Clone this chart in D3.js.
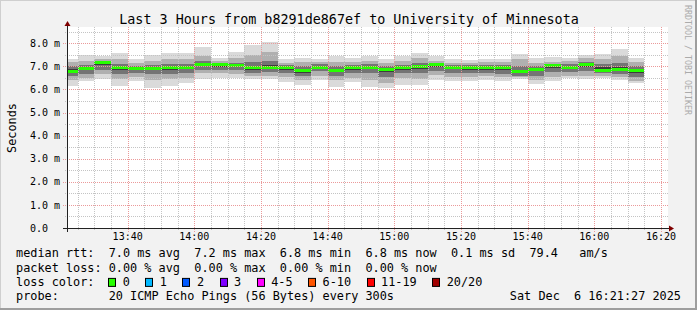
<!DOCTYPE html>
<html lang="en">
<head>
<meta charset="UTF-8" />
<title>SmokePing - Last 3 Hours</title>
<script src="https://d3js.org/d3.v7.min.js"></script>
<style>
  body { margin: 0; background: #f2f2f2; }
  svg { display: block; }
  text { font-family: "DejaVu Sans Mono", monospace; fill: #000; white-space: pre; }
</style>
</head>
<body>
<svg width="697" height="310"></svg>
<script>
// time window of the graph and the 5 minute bins
const viewStart = new Date(2025, 11, 6, 13, 21, 48);
const viewEnd = new Date(2025, 11, 6, 16, 21, 48);
const binStart = new Date(2025, 11, 6, 13, 20, 0);
const stepSec = 300;
const yMax = 8.66;

// median rtt per bin (ms)
const median = [6.79, 6.90, 7.15, 6.97, 6.90, 6.90, 6.96, 6.97, 7.10, 7.07, 7.02, 6.93, 6.97, 6.94, 6.81, 6.97, 6.84, 6.93,
  6.97, 6.86, 6.93, 7.00, 7.06, 6.97, 6.93, 6.93, 6.93, 6.78, 6.86, 7.02, 6.97, 7.07, 6.84, 6.88, 6.81];
// smoke: slowest / fastest ping
const pingMax = [7.33, 7.48, 7.44, 7.59, 7.33, 7.51, 7.58, 7.58, 7.84, 7.36, 7.62, 7.94, 8.06, 7.33, 7.36, 7.33, 7.44, 7.36,
  7.44, 7.33, 7.44, 7.59, 7.44, 7.33, 7.26, 7.33, 7.33, 7.54, 7.36, 7.41, 7.36, 7.51, 7.54, 7.75, 7.36];
const pingMin = [6.14, 6.35, 6.45, 6.16, 6.38, 6.06, 6.14, 6.28, 6.47, 6.50, 6.50, 6.47, 6.44, 6.32, 6.21, 6.42, 6.09, 6.32,
  6.09, 6.06, 6.21, 6.21, 6.42, 6.35, 6.35, 6.42, 6.35, 6.47, 6.24, 6.35, 6.50, 6.47, 6.50, 6.42, 6.28];
// inner smoke layers (upper / lower bounds)
const hi2 = [7.20, 7.25, 7.30, 7.30, 7.15, 7.25, 7.30, 7.30, 7.45, 7.22, 7.35, 7.50, 7.60, 7.15, 7.20, 7.18, 7.20, 7.18,
  7.22, 7.15, 7.25, 7.35, 7.25, 7.15, 7.15, 7.18, 7.18, 7.30, 7.15, 7.20, 7.22, 7.35, 7.30, 7.45, 7.20];
const lo2 = [6.40, 6.50, 6.65, 6.45, 6.55, 6.40, 6.45, 6.50, 6.70, 6.70, 6.65, 6.60, 6.60, 6.52, 6.40, 6.60, 6.40, 6.50,
  6.40, 6.30, 6.50, 6.45, 6.62, 6.55, 6.55, 6.58, 6.52, 6.55, 6.40, 6.55, 6.60, 6.60, 6.58, 6.55, 6.38];
const hi3 = [7.02, 7.05, 7.20, 7.10, 7.02, 7.05, 7.10, 7.12, 7.25, 7.13, 7.15, 7.20, 7.25, 7.05, 7.02, 7.08, 7.00, 7.05,
  7.10, 7.00, 7.05, 7.15, 7.15, 7.05, 7.05, 7.05, 7.05, 7.00, 7.00, 7.10, 7.10, 7.20, 7.12, 7.15, 7.00];
const lo3 = [6.58, 6.68, 6.85, 6.65, 6.70, 6.65, 6.68, 6.72, 6.85, 6.85, 6.82, 6.72, 6.75, 6.72, 6.58, 6.78, 6.60, 6.70,
  6.70, 6.55, 6.70, 6.72, 6.80, 6.72, 6.72, 6.72, 6.68, 6.58, 6.60, 6.75, 6.75, 6.78, 6.70, 6.68, 6.55];
const hi4 = [6.88, 6.95, 7.17, 7.00, 6.94, 6.95, 7.00, 7.03, 7.15, 7.10, 7.06, 7.00, 7.05, 6.98, 6.90, 7.01, 6.90, 6.97,
  7.01, 6.90, 6.97, 7.05, 7.10, 7.00, 6.97, 6.97, 6.97, 6.85, 6.92, 7.05, 7.02, 7.12, 6.95, 6.98, 6.88];
const lo4 = [6.70, 6.83, 7.05, 6.85, 6.82, 6.82, 6.85, 6.88, 7.00, 6.98, 6.95, 6.85, 6.88, 6.86, 6.72, 6.90, 6.75, 6.85,
  6.88, 6.75, 6.85, 6.90, 6.95, 6.88, 6.85, 6.85, 6.82, 6.70, 6.78, 6.92, 6.88, 6.95, 6.78, 6.80, 6.72];

const yTicks = [0, 1, 2, 3, 4, 5, 6, 7, 8];
const yTickLabels = ["0.0", "1.0 m", "2.0 m", "3.0 m", "4.0 m", "5.0 m", "6.0 m", "7.0 m", "8.0 m"];

const lossLabels = ["0", "1", "2", "3", "4-5", "6-10", "11-19", "20/20"];
const lossColors = ["#26ff00", "#00b8ff", "#0059ff", "#7e00ff", "#ff00ff", "#ff5500", "#ff0000", "#a10000"];

const title = "Last 3 Hours from b8291de867ef to University of Minnesota";
const rttLine = "median rtt:  7.0 ms avg  7.2 ms max  6.8 ms min  6.8 ms now  0.1 ms sd  79.4   am/s";
const lossLine = "packet loss: 0.00 % avg  0.00 % max  0.00 % min  0.00 % now";
const probeLine = "probe:       20 ICMP Echo Pings (56 Bytes) every 300s";
const stampLine = "Sat Dec  6 16:21:27 2025";

const W = 697, H = 310;
const plotL = 67, plotR = 667, plotT = 28, plotB = 228;
const charW = 7.134;

const svg = d3.select("svg");

// background + 3d frame
svg.append("rect").attr("width", W).attr("height", H).attr("fill", "#f2f2f2");
svg.append("path").attr("d", `M0,${H}V0H${W}`).attr("fill", "none").attr("stroke", "#cfcfcf").attr("stroke-width", 2);
svg.append("path").attr("d", `M0,${H - 1}H${W - 1}V0`).attr("fill", "none").attr("stroke", "#9e9e9e").attr("stroke-width", 2);

const x = d3.scaleTime().domain([viewStart, viewEnd]).range([plotL, plotR]);
const y = d3.scaleLinear().domain([0, yMax]).range([plotB, plotT]);

svg.append("rect").attr("x", plotL).attr("y", plotT - 1).attr("width", plotR - plotL + 1).attr("height", plotB - plotT + 1).attr("fill", "#fff");

svg.append("clipPath").attr("id", "plot")
  .append("rect").attr("x", plotL).attr("y", plotT).attr("width", plotR - plotL).attr("height", plotB - plotT);

const plot = svg.append("g").attr("clip-path", "url(#plot)");

const bins = median.map((m, i) => {
  const t0 = new Date(binStart.getTime() + i * stepSec * 1000);
  const t1 = new Date(t0.getTime() + stepSec * 1000);
  return { i, x0: Math.round(x(t0)), x1: Math.round(x(t1)), m };
});

const layers = [
  { lo: pingMin, hi: pingMax, color: "#dadada" },
  { lo: lo2, hi: hi2, color: "#b0b0b0" },
  { lo: lo3, hi: hi3, color: "#747474" },
  { lo: lo4, hi: hi4, color: "#3c3c3c" }
];

layers.forEach(L => {
  plot.append("g").selectAll("rect")
    .data(bins)
    .join("rect")
    .attr("x", d => d.x0)
    .attr("width", d => d.x1 - d.x0)
    .attr("y", d => Math.round(y(L.hi[d.i])))
    .attr("height", d => Math.round(y(L.lo[d.i])) - Math.round(y(L.hi[d.i])))
    .attr("fill", L.color);
});

// grid
const grid = svg.append("g").attr("fill", "none").attr("stroke-dasharray", "1,1");
const hMinor = d3.range(0.5, yMax, 0.5).filter(v => v % 1 !== 0);
grid.selectAll(".hmin").data(hMinor).join("line")
  .attr("x1", plotL - 2).attr("x2", plotR + 2)
  .attr("y1", d => Math.round(y(d)) + 0.5).attr("y2", d => Math.round(y(d)) + 0.5)
  .attr("stroke", "#c4c4c4");
const fiveMin = d3.timeMinute.every(5).range(viewStart, viewEnd);
grid.selectAll(".vmin").data(fiveMin.filter(t => t.getMinutes() % 20 !== 0)).join("line")
  .attr("x1", d => Math.round(x(d)) + 0.5).attr("x2", d => Math.round(x(d)) + 0.5)
  .attr("y1", plotT - 1).attr("y2", plotB + 2)
  .attr("stroke", "#c4c4c4");
grid.selectAll(".hmaj").data(yTicks.slice(1)).join("line")
  .attr("x1", plotL - 4).attr("x2", plotR + 2)
  .attr("y1", d => Math.round(y(d)) + 0.5).attr("y2", d => Math.round(y(d)) + 0.5)
  .attr("stroke", "#eb9a9a");
const majT = fiveMin.filter(t => t.getMinutes() % 20 === 0);
grid.selectAll(".vmaj").data(majT).join("line")
  .attr("x1", d => Math.round(x(d)) + 0.5).attr("x2", d => Math.round(x(d)) + 0.5)
  .attr("y1", plotT - 1).attr("y2", plotB + 4)
  .attr("stroke", "#eb9a9a");

// median line
plot.append("g").selectAll("rect")
  .data(bins)
  .join("rect")
  .attr("x", d => d.x0)
  .attr("width", d => d.x1 - d.x0)
  .attr("y", d => Math.round(y(d.m) - 1.5))
  .attr("height", 3)
  .attr("fill", lossColors[0]);

// axes
svg.append("line").attr("x1", plotL - 4).attr("x2", plotR + 4).attr("y1", plotB + 0.5).attr("y2", plotB + 0.5)
  .attr("stroke", "#222");
svg.append("line").attr("x1", plotL + 0.5).attr("x2", plotL + 0.5).attr("y1", plotB + 4).attr("y2", plotT - 3)
  .attr("stroke", "#222");
svg.append("path").attr("d", `M${plotR + 2},${plotB - 2.5}L${plotR + 7},${plotB + 0.5}L${plotR + 2},${plotB + 3.5}Z`)
  .attr("fill", "#7f0000");
svg.append("path").attr("d", `M${plotL - 2.5},${plotT - 2}L${plotL + 0.5},${plotT - 7}L${plotL + 3.5},${plotT - 2}Z`)
  .attr("fill", "#7f0000");

// tick labels
svg.append("g").selectAll("text").data(yTicks).join("text")
  .attr("x", 30).attr("y", d => y(d) + 3.6)
  .attr("font-size", 10)
  .text((d, i) => yTickLabels[i]);

svg.append("g").selectAll("text").data(majT).join("text")
  .attr("x", d => x(d)).attr("y", 240)
  .attr("text-anchor", "middle")
  .attr("font-size", 10)
  .text(d3.timeFormat("%H:%M"));

// titles
svg.append("text").attr("x", 349).attr("y", 24).attr("text-anchor", "middle")
  .attr("font-size", 13.4).text(title);
svg.append("text").attr("transform", `translate(16,${(plotT + plotB) / 2}) rotate(-90)`)
  .attr("text-anchor", "middle").attr("font-size", 11.85).text("Seconds");
svg.append("text").attr("transform", "translate(684.5,5) rotate(90)")
  .attr("font-size", 8.3).style("fill", "#ababab").text("RRDTOOL / TOBI OETIKER");

// legend
const lg = svg.append("g").attr("font-size", 11.85);
const base = 257.2, lineH = 14.35;
lg.append("text").attr("x", 16).attr("y", base).text(rttLine);
lg.append("text").attr("x", 16).attr("y", base + lineH).text(lossLine);
lg.append("text").attr("x", 16).attr("y", base + 2 * lineH).text("loss color:");
lg.append("text").attr("x", 16).attr("y", base + 3 * lineH).text(probeLine);
lg.append("text").attr("x", 681).attr("y", base + 3 * lineH).attr("text-anchor", "end").text(stampLine);

let bx = 16 + 13 * charW - 0.5;
lossLabels.forEach((lab, i) => {
  lg.append("rect").attr("x", Math.round(bx) + 0.5).attr("y", base + 2 * lineH - 7.5)
    .attr("width", 7).attr("height", 8)
    .attr("fill", lossColors[i]).attr("stroke", "#000");
  const tx = bx + 14.5;
  lg.append("text").attr("x", tx).attr("y", base + 2 * lineH).text(lab);
  bx = tx + (lab.length + 2) * charW + 1.2;
});
</script>
</body>
</html>
